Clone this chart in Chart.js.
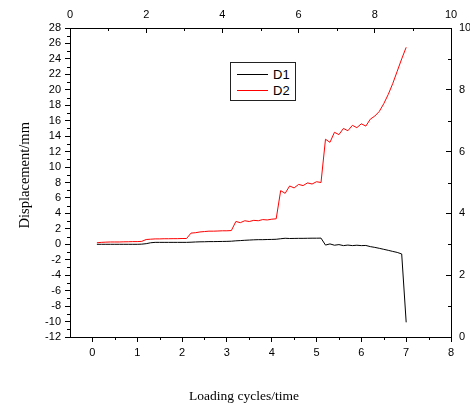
<!DOCTYPE html>
<html>
<head>
<meta charset="utf-8">
<script src="https://cdn.jsdelivr.net/npm/chart.js@4/dist/chart.umd.min.js"></script>
<style>
  html, body { margin: 0; padding: 0; background: #fff; }
  #wrap { position: relative; width: 470px; height: 403px; }
  #chart { position: absolute; left: 0; top: 0; }
  .ttl { position: absolute; font-family: "Liberation Serif", "Times New Roman", serif; font-weight: 400; color: #000; white-space: nowrap; text-align: center; }
  #xtitle { left: 144px; top: 388px; width: 200px; font-size: 13.5px; line-height: 16px; }
  #legend { position: absolute; left: 230px; top: 62px; width: 64px; height: 37px; border: 1px solid #222; background: #fff;
            font-family: "Liberation Sans", Arial, sans-serif; font-size: 13px; color: #000; }
  #legend .sw { position: absolute; left: 6px; width: 31px; height: 1px; }
  #legend .lb { position: absolute; left: 42px; line-height: 15px; }
</style>
</head>
<body>
<div id="wrap">
  <canvas id="chart" width="470" height="403"></canvas>
  <div id="xtitle" class="ttl">Loading cycles/time</div>
  <div id="legend">
    <span class="sw" style="top:11px;background:#000"></span><span class="lb" style="top:4px">D1</span>
    <span class="sw" style="top:27px;background:#ff0000"></span><span class="lb" style="top:20px">D2</span>
  </div>
</div>
<script>
// loading cycle positions of the recorded points
const cycles = [0.1, 0.2, 0.3, 0.4, 0.5, 0.6, 0.7, 0.8, 0.9, 1.0,
                1.1, 1.2, 1.3, 1.4, 1.5, 1.6, 1.7, 1.8, 1.9, 2.0,
                2.1, 2.2, 2.3, 2.4, 2.5, 2.6, 2.7, 2.8, 2.9, 3.0,
                3.1, 3.2, 3.3, 3.4, 3.5, 3.6, 3.7, 3.8, 3.9, 4.0,
                4.1, 4.2, 4.3, 4.4, 4.5, 4.6, 4.7, 4.8, 4.9, 5.0,
                5.1, 5.2, 5.3, 5.4, 5.5, 5.6, 5.7, 5.8, 5.9, 6.0,
                6.1, 6.2, 6.3, 6.4, 6.5, 6.6, 6.7, 6.8, 6.9, 7.0];

const d1 = [0.00, 0.00, 0.00, 0.00, 0.00, 0.00, 0.00, 0.00, 0.00, 0.00,
            0.02, 0.08, 0.20, 0.25, 0.25, 0.25, 0.25, 0.25, 0.25, 0.25,
            0.25, 0.27, 0.30, 0.32, 0.33, 0.35, 0.35, 0.36, 0.37, 0.38,
            0.40, 0.45, 0.48, 0.52, 0.55, 0.58, 0.60, 0.60, 0.62, 0.63,
            0.65, 0.72, 0.78, 0.75, 0.76, 0.77, 0.77, 0.78, 0.79, 0.79,
            0.80, -0.10, 0.05, -0.12, -0.04, -0.17, -0.10, -0.17, -0.12, -0.17,
            -0.15, -0.30, -0.40, -0.52, -0.65, -0.78, -0.92, -1.05, -1.25, -10.1];

const d2 = [0.20, 0.25, 0.28, 0.30, 0.30, 0.30, 0.32, 0.33, 0.35, 0.35,
            0.38, 0.62, 0.66, 0.70, 0.70, 0.72, 0.72, 0.73, 0.73, 0.75,
            0.75, 1.45, 1.50, 1.60, 1.65, 1.70, 1.70, 1.72, 1.75, 1.75,
            1.78, 2.95, 2.80, 3.05, 2.95, 3.10, 3.05, 3.20, 3.15, 3.25,
            3.30, 6.95, 6.60, 7.55, 7.30, 7.75, 7.60, 7.95, 7.80, 8.10,
            8.00, 13.6, 13.2, 14.5, 14.2, 15.0, 14.7, 15.4, 15.1, 15.6,
            15.3, 16.2, 16.6, 17.2, 18.2, 19.4, 20.8, 22.4, 24.0, 25.5];

// tick values
const xMajor = [0, 1, 2, 3, 4, 5, 6, 7, 8];
const xMinor = [0.5, 1.5, 2.5, 3.5, 4.5, 5.5, 6.5, 7.5];
const yMajor = [-12, -10, -8, -6, -4, -2, 0, 2, 4, 6, 8, 10, 12, 14, 16, 18, 20, 22, 24, 26, 28];
const yMinor = [-11, -9, -7, -5, -3, -1, 1, 3, 5, 7, 9, 11, 13, 15, 17, 19, 21, 23, 25, 27];
const topMajor = [0, 2, 4, 6, 8, 10];
const topMinor = [1, 3, 5, 7, 9];
const rightMajor = [0, 2, 4, 6, 8, 10];
const rightMinor = [1, 3, 5, 7, 9];

const tickFont = { family: "'Liberation Sans', Arial, sans-serif", size: 11 };

function setTicks(vals) {
  return function(scale) { scale.ticks = vals.map(v => ({ value: v })); };
}

// short minor ticks; left/bottom point out, top/right point in
const minorTicks = {
  id: 'minorTicks',
  afterDraw(chart) {
    const ctx = chart.ctx;
    const a = chart.chartArea;
    const len = 3;
    ctx.save();
    ctx.strokeStyle = '#000';
    ctx.lineWidth = 1;
    ctx.beginPath();
    xMinor.forEach(v => {
      const px = Math.round(chart.scales.x.getPixelForValue(v)) + 0.5;
      ctx.moveTo(px, a.bottom); ctx.lineTo(px, a.bottom + len);
    });
    topMinor.forEach(v => {
      const px = Math.round(chart.scales.x2.getPixelForValue(v)) + 0.5;
      ctx.moveTo(px, a.top); ctx.lineTo(px, a.top + len);
    });
    yMinor.forEach(v => {
      const py = Math.round(chart.scales.y.getPixelForValue(v)) + 0.5;
      ctx.moveTo(a.left, py); ctx.lineTo(a.left - len, py);
    });
    rightMinor.forEach(v => {
      const py = Math.round(chart.scales.y2.getPixelForValue(v)) + 0.5;
      ctx.moveTo(a.right, py); ctx.lineTo(a.right - len, py);
    });
    ctx.stroke();
    ctx.restore();
  }
};

const axisBase = {
  type: 'linear',
  border: { display: true, color: '#000', width: 1 },
  ticks: { color: '#000', font: tickFont, autoSkip: false, maxRotation: 0 }
};

new Chart(document.getElementById('chart').getContext('2d'), {
  type: 'line',
  data: {
    datasets: [
      {
        label: 'D1',
        data: cycles.map((c, i) => ({ x: c, y: d1[i] })),
        borderColor: '#000000',
        borderWidth: 1,
        pointRadius: 0,
        tension: 0,
        xAxisID: 'x',
        yAxisID: 'y'
      },
      {
        label: 'D2',
        data: cycles.map((c, i) => ({ x: c, y: d2[i] })),
        borderColor: '#ff0000',
        borderWidth: 1,
        pointRadius: 0,
        tension: 0,
        xAxisID: 'x',
        yAxisID: 'y'
      }
    ]
  },
  options: {
    responsive: false,
    animation: false,
    layout: { padding: 0 },
    plugins: { legend: { display: false }, tooltip: { enabled: false } },
    scales: {
      x: Object.assign({}, axisBase, {
        position: 'bottom', min: -0.5, max: 8,
        afterBuildTicks: setTicks(xMajor),
        afterFit: s => { s.height = 66; },
        grid: { drawOnChartArea: false, tickLength: 5, tickColor: '#000' },
        ticks: Object.assign({}, axisBase.ticks, { padding: 4 })
      }),
      x2: Object.assign({}, axisBase, {
        position: 'top', min: 0, max: 10,
        afterBuildTicks: setTicks(topMajor),
        afterFit: s => { s.height = 28; },
        grid: { drawOnChartArea: false, tickLength: -5, tickColor: '#000' },
        ticks: Object.assign({}, axisBase.ticks, { padding: 11 })
      }),
      y: Object.assign({}, axisBase, {
        position: 'left', min: -12, max: 28,
        afterBuildTicks: setTicks(yMajor),
        afterFit: s => { s.width = 70; },
        grid: { drawOnChartArea: false, tickLength: 5, tickColor: '#000' },
        ticks: Object.assign({}, axisBase.ticks, { padding: 4 }),
        title: {
          display: true,
          text: '\u00a0\u00a0\u00a0\u00a0Displacement/mm',
          color: '#000',
          font: { family: "'Liberation Serif', 'Times New Roman', serif", size: 14.5 },
          padding: { top: 16, bottom: 0 }
        }
      }),
      y2: Object.assign({}, axisBase, {
        position: 'right', min: 0, max: 10,
        afterBuildTicks: setTicks(rightMajor),
        afterFit: s => { s.width = 19; },
        grid: { drawOnChartArea: false, tickLength: -5, tickColor: '#000' },
        ticks: Object.assign({}, axisBase.ticks, { padding: 13 })
      })
    }
  },
  plugins: [minorTicks]
});
</script>
</body>
</html>
